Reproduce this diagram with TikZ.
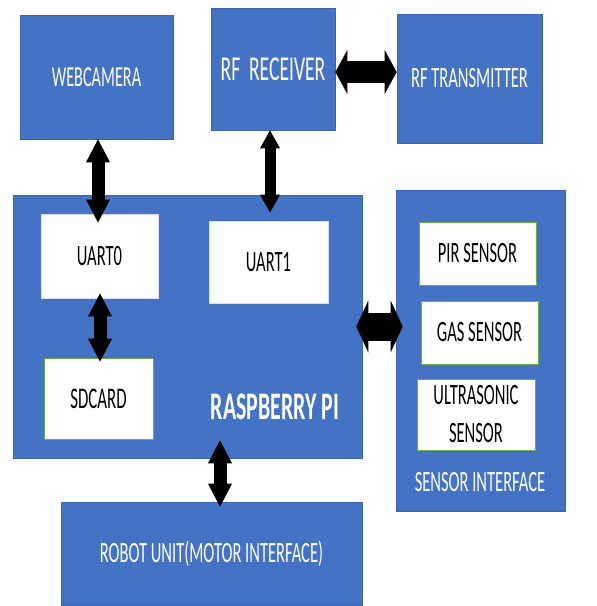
\documentclass[tikz,border=0pt]{standalone}
\usepackage{fontspec}
\setmainfont{Carlito}[FakeStretch=0.56]
\usetikzlibrary{arrows.meta}
\definecolor{blkblue}{HTML}{4472C4}
\definecolor{blkedge}{HTML}{3A64B0}
\definecolor{subedge}{HTML}{70AD47}
\begin{document}
\begin{tikzpicture}[x=1pt, y=-1pt,
  blk/.style={draw=blkedge, fill=blkblue, line width=0.6pt, inner sep=0pt, text=white, font=\fontsize{29.5}{32}\selectfont},
  sub/.style={draw=subedge, fill=white, line width=0.8pt, inner sep=0pt, text=black, align=center, font=\fontsize{29.5}{38}\selectfont},
  uart/.style={sub, draw=blue!15},
  dblv/.style={line width=13pt, {Triangle[width=24pt,length=23pt,line width=0pt]}-{Triangle[width=24pt,length=23pt,line width=0pt]}},
  dblrf/.style={line width=11pt, {Triangle[width=20pt,length=18pt,line width=0pt]}-{Triangle[width=20pt,length=18pt,line width=0pt]}},
  dblh/.style={line width=22pt, {Triangle[width=44pt,length=12pt,line width=0pt]}-{Triangle[width=44pt,length=12pt,line width=0pt]}},
  dbls/.style={line width=28pt, {Triangle[width=52pt,length=12pt,line width=0pt]}-{Triangle[width=52pt,length=12pt,line width=0pt]}}]
\useasboundingbox[fill=white] (0,0) rectangle (597,606);
\node[blk, minimum width=153pt, minimum height=124pt, font=\fontsize{29}{32}\selectfont] (webcam) at (96.5,77) {WEBCAMERA};
\node[blk, minimum width=124pt, minimum height=122pt, font=\fontsize{35}{38}\selectfont] (rfrx) at (273,69) {RF\ \ RECEIVER};
\node[blk, minimum width=145pt, minimum height=129pt] (rftx) at (469.5,78.5) {RF TRANSMITTER};
\node[blk, minimum width=349pt, minimum height=263pt] (rpi) at (187.5,326.5) {};
\node[uart, minimum width=117pt, minimum height=84pt] (uart0) at (99.5,256) {UART0};
\node[uart, minimum width=119pt, minimum height=82pt] (uart1) at (268.5,262) {UART1};
\node[sub, minimum width=109pt, minimum height=81pt, font=\fontsize{30}{33}\selectfont] (sdcard) at (98.5,398.5) {SDCARD};
\node[text=white, inner sep=0pt, font=\fontsize{39}{42}\bfseries] (rpilbl) at (275,407) {RASPBERRY PI};
\node[blk, minimum width=169pt, minimum height=321pt] (sensif) at (480.5,350.5) {};
\node[sub, minimum width=117pt, minimum height=63pt] (pir) at (477.5,253.5) {PIR SENSOR};
\node[sub, minimum width=117pt, minimum height=63pt] (gas) at (479.5,332.5) {GAS SENSOR};
\node[sub, minimum width=118pt, minimum height=71pt] (ultra) at (476,414.5) {ULTRASONIC\\SENSOR};
\node[text=white, inner sep=0pt, font=\fontsize{29.5}{32}\selectfont] (senslbl) at (480,482) {SENSOR INTERFACE};
\node[blk, minimum width=301pt, minimum height=103pt] (robot) at (211.5,553.5) {ROBOT UNIT(MOTOR INTERFACE)};
\draw[dblh] ([yshift=-3pt]rfrx.east) -- ([yshift=-3pt]rfrx.east -| rftx.west);
\draw[dblv, shorten >=-9pt] ([xshift=1.5pt]webcam.south) -- ([xshift=1.5pt]webcam.south |- uart0.north);
\draw[dblrf, shorten >=8pt] ([xshift=-3pt]rfrx.south) -- ([xshift=-3pt]rfrx.south |- uart1.north);
\draw[dblv, shorten <=-5pt, shorten >=-4pt] ([xshift=0.5pt]uart0.south) -- ([xshift=0.5pt]uart0.south |- sdcard.north);
\draw[dbls, shorten <=-6pt, shorten >=-7pt] (rpi.east) -- (rpi.east -| sensif.west);
\draw[dblv, shorten <=-18pt, shorten >=-5pt] ([xshift=8.5pt]robot.north |- rpi.south) -- ([xshift=8.5pt]robot.north);
\end{tikzpicture}
\end{document}
